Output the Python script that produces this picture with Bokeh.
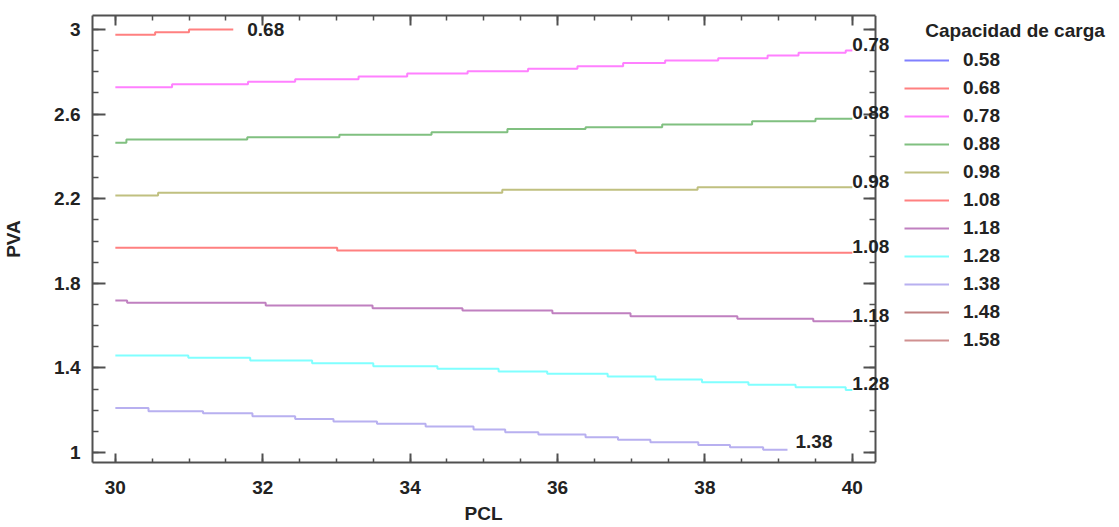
import numpy as np
from bokeh.plotting import figure
from bokeh.models import (LinearAxis, Range1d, FixedTicker, SingleIntervalTicker,
                          PrintfTickFormatter, CustomJSTickFormatter, Legend, LegendItem,
                          Label, LabelSet, ColumnDataSource, Title)
from bokeh.core.properties import value
from bokeh.embed import file_html
from bokeh.resources import INLINE

# ---- data -------------------------------------------------------------
legend_title = "Capacidad de carga"
levels = ["0.58", "0.68", "0.78", "0.88", "0.98", "1.08", "1.18", "1.28", "1.38", "1.48", "1.58"]
colors = ["#8080FF", "#FF8080", "#FF80FF", "#80C080", "#C0C080", "#FF8080",
          "#C080C0", "#80FFFF", "#B8B0F0", "#C08080", "#D09090"]

x_068 = [30, 30.54, 31.0, 31.60]
y_068 = [2.975, 2.987, 3.0, 3.0]

x_078 = [30, 30.77, 31.80, 32.44, 33.30, 33.96, 34.78, 35.60, 36.27, 36.89, 37.46, 38.18, 38.85, 39.27, 39.91, 40]
y_078 = [2.727, 2.741, 2.753, 2.765, 2.778, 2.792, 2.803, 2.814, 2.826, 2.841, 2.853, 2.864, 2.877, 2.890, 2.901, 2.901]

x_088 = [30, 30.15, 31.79, 33.04, 34.29, 35.32, 36.38, 37.42, 38.64, 39.50, 40]
y_088 = [2.464, 2.480, 2.491, 2.502, 2.514, 2.530, 2.538, 2.551, 2.566, 2.578, 2.578]

x_098 = [30, 30.58, 35.25, 37.90, 40]
y_098 = [2.215, 2.228, 2.242, 2.254, 2.254]

x_108 = [30, 33.01, 37.06, 40]
y_108 = [1.968, 1.955, 1.944, 1.944]

x_118 = [30, 30.16, 32.04, 33.49, 34.71, 35.93, 36.99, 38.44, 39.47, 40]
y_118 = [1.719, 1.708, 1.695, 1.682, 1.671, 1.659, 1.644, 1.632, 1.621, 1.621]

x_128 = [30, 30.99, 31.83, 32.67, 33.50, 34.37, 35.20, 35.86, 36.68, 37.33, 37.96, 38.59, 39.23, 39.91, 40]
y_128 = [1.459, 1.448, 1.435, 1.422, 1.408, 1.396, 1.383, 1.372, 1.359, 1.345, 1.332, 1.320, 1.309, 1.296, 1.296]

x_138 = [30, 30.45, 31.19, 31.86, 32.44, 32.96, 33.55, 34.21, 34.86, 35.29, 35.74, 36.38, 36.82, 37.26, 37.91, 38.34, 38.79, 39.12]
y_138 = [1.211, 1.195, 1.186, 1.172, 1.159, 1.147, 1.136, 1.123, 1.109, 1.096, 1.085, 1.072, 1.060, 1.049, 1.036, 1.025, 1.013, 1.013]

contours = {
    "0.68": (x_068, y_068), "0.78": (x_078, y_078), "0.88": (x_088, y_088),
    "0.98": (x_098, y_098), "1.08": (x_108, y_108), "1.18": (x_118, y_118),
    "1.28": (x_128, y_128), "1.38": (x_138, y_138),
}

y_ticks = [1, 1.4, 1.8, 2.2, 2.6, 3]
x_label = "PCL"
y_label = "PVA"

X_MIN, X_MAX = 29.69, 40.31     # visible plot box
Y_MIN, Y_MAX = 0.953, 3.066

# ---- figure -------------------------------------------------------------
FONT = "Liberation Sans"
AX = "#505050"
TXT = "#222222"

p = figure(width=1119, height=527, output_backend="svg", toolbar_location=None,
           x_range=Range1d(X_MIN, 43.625), y_range=Range1d(Y_MIN, Y_MAX),
           x_axis_location=None, y_axis_location=None,
           min_border_left=92, min_border_right=0, min_border_top=15, min_border_bottom=65)
p.grid.visible = False
p.outline_line_color = None
p.background_fill_color = "white"
p.border_fill_color = "white"

xt = SingleIntervalTicker(interval=2, num_minor_ticks=4)
yt = FixedTicker(ticks=y_ticks, minor_ticks=list(np.round(np.arange(0.9, 3.1, 0.1), 2)))
fmt = PrintfTickFormatter(format="%g")
blank = CustomJSTickFormatter(code="return ''")


def style(ax, tick_in, minor_in, show):
    ax.axis_line_color = AX
    ax.axis_line_width = 2
    ax.major_tick_line_color = AX
    ax.minor_tick_line_color = AX
    ax.major_tick_line_width = 2
    ax.minor_tick_line_width = 1.5
    ax.major_tick_in = tick_in
    ax.major_tick_out = 0
    ax.minor_tick_in = minor_in
    ax.minor_tick_out = 0
    if show:
        ax.major_label_text_font = FONT
        ax.major_label_text_font_style = "bold"
        ax.major_label_text_font_size = "19px"
        ax.major_label_text_color = TXT
        ax.axis_label_text_font = FONT
        ax.axis_label_text_font_style = "bold"
        ax.axis_label_text_font_size = "19px"
        ax.axis_label_text_color = TXT
    else:
        ax.major_label_text_font_size = "1px"
        ax.major_label_standoff = 0


bottom = LinearAxis(ticker=xt, formatter=fmt, bounds=(X_MIN, X_MAX))
style(bottom, 9, 4, True)
bottom.major_label_standoff = 18
p.add_layout(bottom, "below")

# x-axis title, centred under the visible plot box
x_title = Title(text=x_label, align="left", offset=372, standoff=8,
                text_font=FONT, text_font_style="bold", text_font_size="19px",
                text_color=TXT)
p.add_layout(x_title, "below")

top = LinearAxis(ticker=xt, formatter=blank, bounds=(X_MIN, X_MAX))
style(top, 10, 5, False)
p.add_layout(top, "above")

left = LinearAxis(ticker=yt, formatter=fmt, axis_label=y_label)
style(left, 13, 6, True)
left.major_label_standoff = 12
left.axis_label_standoff = 27
p.add_layout(left, "left")

right = LinearAxis(ticker=yt, formatter=blank, fixed_location=X_MAX)
style(right, 12, 6, False)
p.add_layout(right, "right")

# ---- contour lines -------------------------------------------------------
items = []
lab_x, lab_y, lab_t, lab_dx, lab_dy = [], [], [], [], []
for lev, col in zip(levels, colors):
    if lev in contours:
        xs, ys = contours[lev]
        r = p.step(xs, ys, mode="after", line_color=col, line_width=2)
        lab_x.append(xs[-1]); lab_y.append(ys[-1]); lab_t.append(lev)
        if xs[-1] >= 40:
            lab_dx.append(0); lab_dy.append(6)
        elif lev == "0.68":
            lab_dx.append(14); lab_dy.append(0)
        else:
            lab_dx.append(8); lab_dy.append(8)
    else:
        # level not reached inside the plotted region: legend entry only
        r = p.line([np.nan], [np.nan], line_color=col, line_width=2)
    items.append(LegendItem(label=lev, renderers=[r]))

src = ColumnDataSource(dict(x=lab_x, y=lab_y, t=lab_t, dx=lab_dx, dy=lab_dy))
labels = LabelSet(x="x", y="y", text="t", x_offset="dx", y_offset="dy", source=src,
                  text_font=value(FONT), text_font_style="bold", text_font_size="19px",
                  text_color=TXT, text_baseline="middle", text_align="left")
p.add_layout(labels)

legend = Legend(items=items, location=(812, 111), orientation="vertical",
                glyph_width=45, glyph_height=22, label_height=22, spacing=6,
                label_standoff=14, padding=0, margin=0,
                border_line_color=None, background_fill_alpha=0,
                label_text_font=FONT, label_text_font_style="bold",
                label_text_font_size="19px", label_text_color=TXT)
p.add_layout(legend)

title = Label(x=40.99, y=2.995, text=legend_title, text_font=FONT,
              text_font_style="bold", text_font_size="19px", text_color=TXT,
              text_baseline="middle", text_align="left")
p.add_layout(title)

open("out.html", "w").write(file_html(p, INLINE))
